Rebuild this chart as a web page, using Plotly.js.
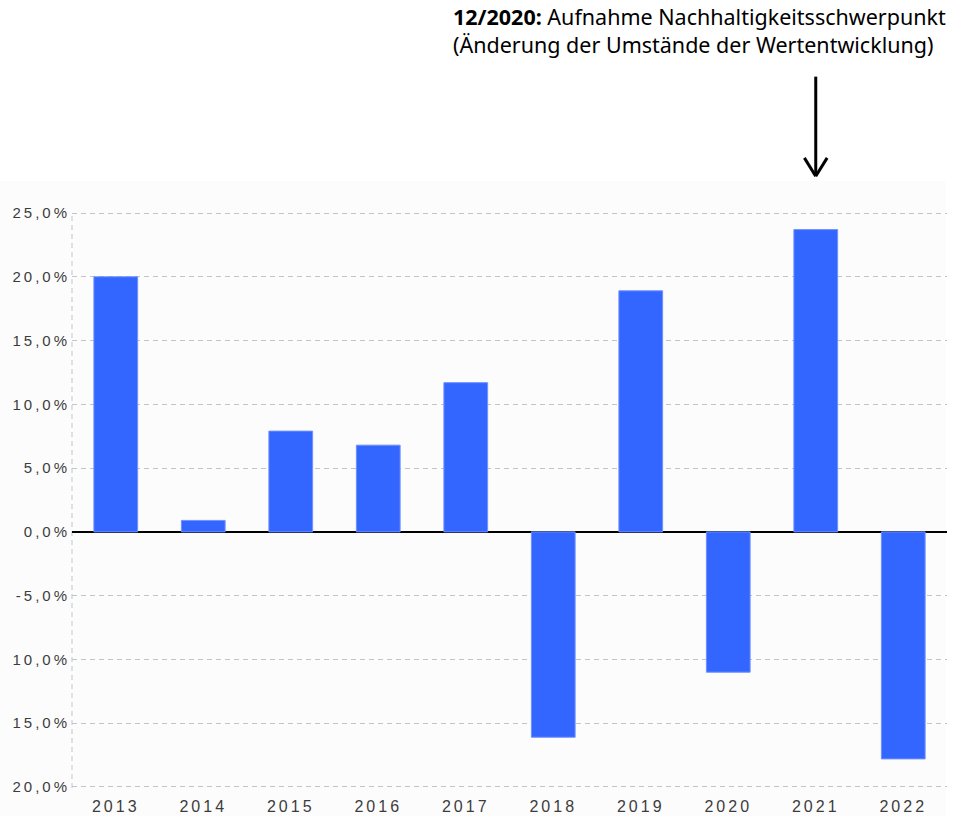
<!DOCTYPE html>
<html><head><meta charset="utf-8">
<script src="https://cdn.plot.ly/plotly-3.0.1.min.js"></script>
<style>
html,body{margin:0;padding:0;background:#fff}#c{width:963px;height:816px}
.xtick text{letter-spacing:3px}
.ytick text{letter-spacing:3px}
</style>
</head><body><div id="c"></div>
<script>
const years = ['2013','2014','2015','2016','2017','2018','2019','2020','2021','2022'];
const returns = [20.0, 0.9, 7.9, 6.8, 11.7, -16.1, 18.9, -11.0, 23.7, -17.8];
const yTickVals = [25, 20, 15, 10, 5, 0, -5, -10, -15, -20];
const yTickText = ['25,0%', '20,0%', '15,0%', '10,0%', '5,0%', '0,0%', '-5,0%', '10,0%', '15,0%', '20,0%'];
const noteBold = '12/2020:';
const noteLine1 = 'Aufnahme Nachhaltigkeitsschwerpunkt';
const noteLine2 = '(Änderung der Umstände der Wertentwicklung)';
const arrowYear = '2021';

const arrowIdx = years.indexOf(arrowYear);

const trace = {
  type: 'bar', x: years, y: returns,
  marker: {color: '#3366ff', line: {color: '#7090ff', width: 1}},
  hoverinfo: 'skip'
};

const layout = {
  width: 963, height: 816,
  margin: {l: 72, r: 16, t: 212, b: 28},
  paper_bgcolor: '#ffffff', plot_bgcolor: 'rgba(0,0,0,0)',
  showlegend: false,
  bargap: 0.5,
  xaxis: {
    type: 'category', range: [-0.5, 9.5],
    showgrid: false, showline: false, zeroline: false, ticks: '',
    tickfont: {family: 'Liberation Sans, Arial, sans-serif', size: 16, color: '#3c3c3c'},
    ticklabelstandoff: 7
  },
  yaxis: {
    range: [-20.08, 25.08], tickvals: yTickVals, ticktext: yTickText,
    showgrid: true, gridcolor: '#c4c4c4', gridwidth: 1, griddash: '5px,4px',
    zeroline: true, zerolinecolor: '#000000', zerolinewidth: 2,
    showline: false, ticks: '',
    tickfont: {family: 'Liberation Sans, Arial, sans-serif', size: 15, color: '#3c3c3c'},
    ticklabelstandoff: 1
  },
  shapes: [
    {type: 'rect', xref: 'paper', yref: 'paper', x0: -0.083, x1: 0.998, y0: -0.06, y1: 1.054,
     fillcolor: '#fcfcfc', line: {width: 0}, layer: 'below'},
    {type: 'line', xref: 'paper', yref: 'paper', x0: 0, x1: 0, y0: 0, y1: 1,
     line: {color: '#c4c4c4', width: 1, dash: '5px,4px'}, layer: 'below'},
    {type: 'line', xref: 'x', yref: 'paper', x0: arrowIdx, x1: arrowIdx, y0: 1.235, y1: 1.063,
     line: {color: '#000000', width: 3}},
    {type: 'line', xref: 'x', yref: 'paper', x0: arrowIdx - 0.13, x1: arrowIdx, y0: 1.094, y1: 1.062,
     line: {color: '#000000', width: 3}},
    {type: 'line', xref: 'x', yref: 'paper', x0: arrowIdx + 0.13, x1: arrowIdx, y0: 1.094, y1: 1.062,
     line: {color: '#000000', width: 3}}
  ],
  annotations: [
    {xref: 'paper', yref: 'paper', x: 0.433, y: 1.368, xanchor: 'left', yanchor: 'top',
     align: 'left', showarrow: false,
     text: '<b>' + noteBold + '</b> ' + noteLine1 + '<br>' + noteLine2,
     font: {family: 'Noto Sans, sans-serif', size: 21.5, color: '#000000'}}
  ]
};

Plotly.newPlot('c', [trace], layout, {displayModeBar: false, staticPlot: true});
</script></body></html>
